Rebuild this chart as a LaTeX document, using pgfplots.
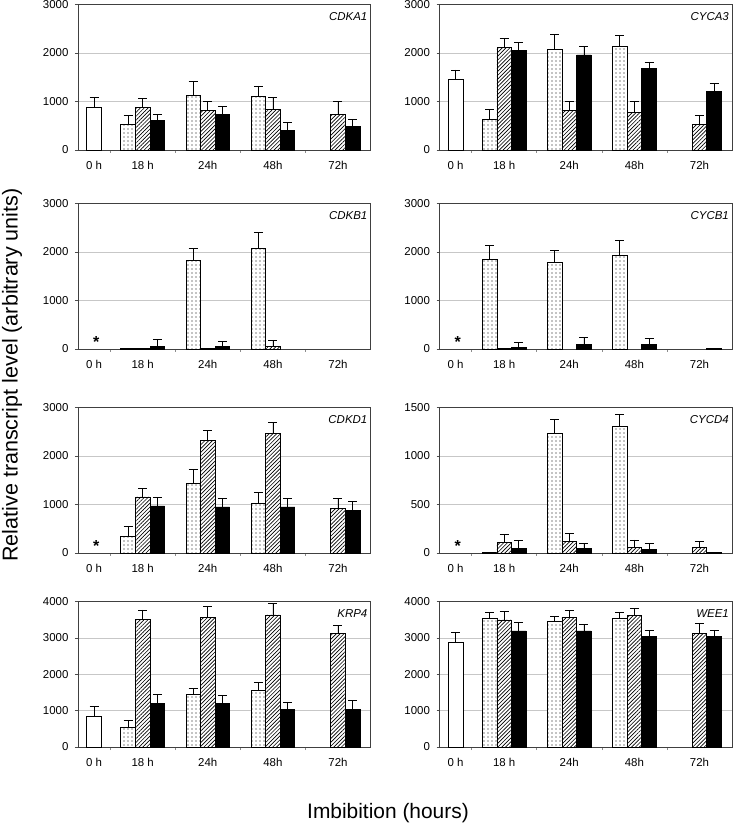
\documentclass[border=0pt]{standalone}
\usepackage{fontspec}
\setmainfont{Liberation Sans}
\usepackage{pgfplots}
\pgfplotsset{compat=1.18}
\usetikzlibrary{patterns.meta}

\pgfplotsset{
  panel/.style={
    scale only axis, width=292.5bp, height=145.5bp,
    xmin=0, xmax=20, ymin=0,
    axis line style={black!75, line width=0.8bp},
    ymajorgrids, grid style={black!22, line width=0.7bp},
    xtick={1.1,4.425,8.875,13.325,17.775},
    xticklabels={0 h,18 h,24h,48h,72h},
    major x tick style={draw=none},
    minor xtick={2.2,6.65,11.1,15.55},
    minor x tick style={black!45, line width=0.6bp},
    minor tick length=3bp,
    major tick length=3bp,
    xtick pos=bottom, ytick pos=left,
    tick align=outside,
    ytick style={black!70, line width=0.6bp},
    tick label style={font=\fontsize{11.5}{13}\selectfont},
    /pgf/number format/assume math mode=true,
    /pgf/number format/1000 sep={},
    xticklabel style={yshift=-5bp},
    yticklabel style={xshift=-3bp},
    clip=false,
  },
  barbase/.style={ybar, bar width=1, bar shift=0pt, draw=black, line width=0.7bp,
    error bars/y dir=plus, error bars/y explicit,
    error bars/error bar style={black, line width=0.7bp, solid},
    error bars/error mark options={rotate=90, black, mark size=4.5bp, line width=0.7bp}},
  wbar/.style={barbase, fill=white},
  dbar/.style={barbase, fill=white, postaction={pattern={Dots[distance=4bp, radius=0.55bp]}}},
  hbar/.style={barbase, fill=white, postaction={pattern={Lines[angle=45, distance=2.7bp, line width=0.65bp]}}},
  bbar/.style={barbase, fill=black},
}
\tikzset{
  glabel/.style={anchor=north east, inner sep=0pt, xshift=-3bp, yshift=-7.5bp, font=\itshape\fontsize{11.5}{13}\selectfont},
  star/.style={anchor=base, inner sep=0pt, font=\bfseries\fontsize{16}{16}\selectfont},
}

\begin{document}
\begin{tikzpicture}
\useasboundingbox (0,0) rectangle (733bp,825bp);

% ---------- Row 1 ----------
\begin{axis}[panel, at={(78bp,675bp)}, anchor=south west, ymax=3000, ytick={0,1000,2000,3000}]
\addplot[wbar] coordinates {(1.1,870) +- (0,210)};
\addplot[dbar] coordinates {(3.425,520) +- (0,190) (7.875,1130) +- (0,280) (12.325,1100) +- (0,220)};
\addplot[hbar] coordinates {(4.425,870) +- (0,200) (8.875,820) +- (0,180) (13.325,840) +- (0,240) (17.775,730) +- (0,270)};
\addplot[bbar] coordinates {(5.425,610) +- (0,130) (9.875,730) +- (0,170) (14.325,400) +- (0,170) (18.775,480) +- (0,150)};
\node[glabel] at (rel axis cs:1,1) {CDKA1};
\end{axis}

\begin{axis}[panel, at={(439.5bp,675bp)}, anchor=south west, ymax=3000, ytick={0,1000,2000,3000}]
\addplot[wbar] coordinates {(1.1,1460) +- (0,190)};
\addplot[dbar] coordinates {(3.425,630) +- (0,210) (7.875,2070) +- (0,310) (12.325,2140) +- (0,230)};
\addplot[hbar] coordinates {(4.425,2120) +- (0,180) (8.875,820) +- (0,180) (13.325,780) +- (0,220) (17.775,520) +- (0,200)};
\addplot[bbar] coordinates {(5.425,2050) +- (0,160) (9.875,1960) +- (0,185) (14.325,1675) +- (0,140) (18.775,1200) +- (0,170)};
\node[glabel] at (rel axis cs:1,1) {CYCA3};
\end{axis}

% ---------- Row 2 ----------
\begin{axis}[panel, at={(78bp,476bp)}, anchor=south west, ymax=3000, ytick={0,1000,2000,3000}]
\addplot[dbar] coordinates {(3.425,15) +- (0,0) (7.875,1820) +- (0,260) (12.325,2070) +- (0,330)};
\addplot[hbar] coordinates {(4.425,15) +- (0,0) (8.875,15) +- (0,0) (13.325,60) +- (0,125)};
\addplot[bbar] coordinates {(5.425,50) +- (0,140) (9.875,50) +- (0,110)};
\node[glabel] at (rel axis cs:1,1) {CDKB1};
\node[star] at (axis cs:1.25,30) {*};
\end{axis}

\begin{axis}[panel, at={(439.5bp,476bp)}, anchor=south west, ymax=3000, ytick={0,1000,2000,3000}]
\addplot[dbar] coordinates {(3.425,1840) +- (0,300) (7.875,1790) +- (0,250) (12.325,1940) +- (0,300)};
\addplot[hbar] coordinates {(4.425,5) +- (0,0)};
\addplot[bbar] coordinates {(5.425,25) +- (0,115) (9.875,100) +- (0,130) (14.325,100) +- (0,115) (18.775,15) +- (0,0)};
\node[glabel] at (rel axis cs:1,1) {CYCB1};
\node[star] at (axis cs:1.25,30) {*};
\end{axis}

% ---------- Row 3 ----------
\begin{axis}[panel, at={(78bp,272bp)}, anchor=south west, ymax=3000, ytick={0,1000,2000,3000}]
\addplot[dbar] coordinates {(3.425,340) +- (0,210) (7.875,1440) +- (0,290) (12.325,1020) +- (0,225)};
\addplot[hbar] coordinates {(4.425,1155) +- (0,185) (8.875,2325) +- (0,195) (13.325,2465) +- (0,225) (17.775,920) +- (0,200)};
\addplot[bbar] coordinates {(5.425,970) +- (0,170) (9.875,950) +- (0,180) (14.325,950) +- (0,170) (18.775,880) +- (0,185)};
\node[glabel] at (rel axis cs:1,1) {CDKD1};
\node[star] at (axis cs:1.25,30) {*};
\end{axis}

\begin{axis}[panel, at={(439.5bp,272bp)}, anchor=south west, ymax=1500, ytick={0,500,1000,1500}]
\addplot[dbar] coordinates {(3.425,10) +- (0,0) (7.875,1235) +- (0,145) (12.325,1305) +- (0,120)};
\addplot[hbar] coordinates {(4.425,105) +- (0,85) (8.875,120) +- (0,80) (13.325,60) +- (0,75) (17.775,60) +- (0,60)};
\addplot[bbar] coordinates {(5.425,50) +- (0,80) (9.875,50) +- (0,50) (14.325,40) +- (0,60) (18.775,10) +- (0,0)};
\node[glabel] at (rel axis cs:1,1) {CYCD4};
\node[star] at (axis cs:1.25,15) {*};
\end{axis}

% ---------- Row 4 ----------
\begin{axis}[panel, at={(78bp,78bp)}, anchor=south west, ymax=4000, ytick={0,1000,2000,3000,4000}]
\addplot[wbar] coordinates {(1.1,855) +- (0,255)};
\addplot[dbar] coordinates {(3.425,545) +- (0,175) (7.875,1445) +- (0,175) (12.325,1545) +- (0,240)};
\addplot[hbar] coordinates {(4.425,3505) +- (0,265) (8.875,3570) +- (0,310) (13.325,3630) +- (0,310) (17.775,3125) +- (0,220)};
\addplot[bbar] coordinates {(5.425,1195) +- (0,250) (9.875,1195) +- (0,230) (14.325,1040) +- (0,200) (18.775,1040) +- (0,240)};
\node[glabel] at (rel axis cs:1,1) {KRP4};
\end{axis}

\begin{axis}[panel, at={(439.5bp,78bp)}, anchor=south west, ymax=4000, ytick={0,1000,2000,3000,4000}]
\addplot[wbar] coordinates {(1.1,2885) +- (0,275)};
\addplot[dbar] coordinates {(3.425,3530) +- (0,165) (7.875,3450) +- (0,140) (12.325,3530) +- (0,175)};
\addplot[hbar] coordinates {(4.425,3495) +- (0,230) (8.875,3570) +- (0,185) (13.325,3625) +- (0,175) (17.775,3125) +- (0,285)};
\addplot[bbar] coordinates {(5.425,3190) +- (0,250) (9.875,3190) +- (0,175) (14.325,3035) +- (0,175) (18.775,3035) +- (0,160)};
\node[glabel] at (rel axis cs:1,1) {WEE1};
\end{axis}

\node[anchor=base, rotate=90, inner sep=0pt, font=\fontsize{21.6}{24}\selectfont] at (17.5bp,450bp) {Relative transcript level (arbitrary units)};
\node[anchor=base, inner sep=0pt, font=\fontsize{21}{24}\selectfont] at (388bp,7bp) {Imbibition (hours)};
\end{tikzpicture}
\end{document}
